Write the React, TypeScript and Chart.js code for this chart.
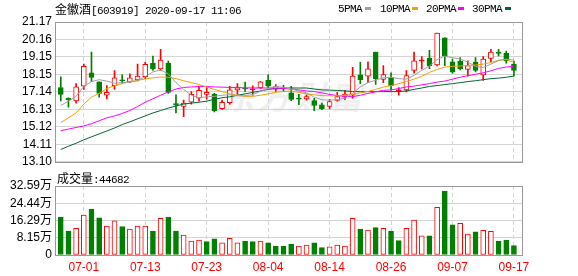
import React, { useEffect, useRef } from 'react';
import { Chart, registerables } from 'chart.js';

Chart.register(...registerables);

// ---------- data ----------
const stockName = '金徽酒';
const stockCode = '603919';
const stamp = '2020-09-17 11:06';
const lastVolume = 44682;

const dates = [
  '06-24', '06-29', '06-30', '07-01', '07-02', '07-03', '07-06', '07-07', '07-08', '07-09',
  '07-10', '07-13', '07-14', '07-15', '07-16', '07-17', '07-20', '07-21', '07-22', '07-23',
  '07-24', '07-27', '07-28', '07-29', '07-30', '07-31', '08-03', '08-04', '08-05', '08-06',
  '08-07', '08-10', '08-11', '08-12', '08-13', '08-14', '08-17', '08-18', '08-19', '08-20',
  '08-21', '08-24', '08-25', '08-26', '08-27', '08-28', '08-31', '09-01', '09-02', '09-03',
  '09-04', '09-07', '09-08', '09-09', '09-10', '09-11', '09-14', '09-15', '09-16', '09-17',
];

const opens = [
  17.39, 16.77, 16.62, 17.46, 18.24, 17.71, 16.95, 17.49, 17.82, 17.71,
  17.82, 18.01, 18.80, 18.46, 18.80, 16.46, 16.30, 16.54, 16.77, 16.99,
  16.99, 16.16, 16.51, 17.25, 17.33, 17.26, 17.37, 17.80, 17.29, 17.37,
  17.08, 16.74, 16.73, 16.64, 16.39, 16.30, 16.64, 16.85, 16.94, 18.12,
  18.05, 19.44, 17.86, 17.94, 17.19, 17.25, 18.37, 18.91, 19.07, 18.69,
  20.25, 18.87, 18.91, 18.43, 18.86, 18.12, 19.07, 19.44, 19.36, 18.74,
];
const closes = [
  16.99, 16.68, 17.43, 18.61, 17.97, 17.05, 17.11, 17.94, 17.78, 17.94,
  18.05, 18.73, 18.46, 18.97, 17.11, 16.37, 16.49, 16.99, 17.22, 17.11,
  16.05, 16.54, 17.25, 17.37, 17.30, 17.29, 17.71, 17.46, 17.44, 17.30,
  16.70, 16.72, 16.86, 16.35, 16.16, 16.58, 16.86, 17.01, 18.05, 17.84,
  18.46, 17.90, 18.14, 17.49, 17.25, 18.08, 18.93, 18.99, 18.65, 20.53,
  19.21, 18.27, 18.46, 18.65, 18.37, 19.03, 19.44, 19.36, 18.93, 18.37,
];
const highs = [
  18.01, 16.79, 17.61, 18.74, 19.44, 17.72, 17.50, 18.37, 18.12, 18.18,
  18.74, 18.86, 19.20, 19.59, 18.91, 16.97, 16.66, 17.16, 17.45, 17.39,
  17.05, 16.66, 17.45, 17.61, 17.70, 17.49, 17.74, 18.12, 17.56, 17.52,
  17.45, 16.99, 16.97, 16.77, 16.49, 16.71, 17.11, 17.22, 18.55, 18.84,
  18.87, 19.44, 18.65, 18.24, 17.39, 18.37, 19.44, 19.18, 19.53, 20.53,
  20.25, 19.03, 19.12, 18.93, 19.12, 19.18, 19.59, 19.59, 19.49, 18.91,
];
const lows = [
  16.62, 16.26, 16.49, 17.28, 17.73, 16.83, 16.73, 17.28, 17.63, 17.67,
  17.77, 17.90, 18.38, 18.38, 17.05, 15.92, 15.70, 16.43, 16.60, 16.71,
  15.98, 16.12, 16.43, 16.99, 17.16, 16.94, 17.33, 17.39, 17.16, 17.16,
  16.63, 16.40, 16.66, 16.05, 16.11, 16.16, 16.60, 16.68, 16.77, 17.61,
  17.67, 17.56, 17.67, 17.22, 16.94, 17.14, 18.21, 18.46, 18.48, 18.63,
  18.65, 18.21, 18.40, 18.05, 18.29, 17.80, 18.86, 19.21, 18.80, 18.05,
];
// volume in 万 (10k lots)
const volumes = [
  17.95, 11.3, 12.6, 18.9, 21.7, 17.6, 13.7, 16.1, 13.4, 12.3,
  13.7, 13.7, 11.3, 17.3, 17.95, 11.3, 9.45, 6.6, 7.1, 6.3,
  7.6, 5.7, 7.9, 5.7, 6.6, 6.3, 6.6, 5.7, 4.25, 4.25,
  5.2, 4.25, 4.7, 5.8, 3.45, 3.8, 4.7, 4.25, 17.3, 12.3,
  11.8, 12.9, 12.6, 11.3, 6.8, 12.6, 16.5, 9.0, 9.0, 22.5,
  30.2, 14.2, 15.0, 9.9, 10.9, 11.7, 11.2, 6.6, 7.1, 4.4682,
];
const ma5 = [
  16.35, 16.60, 16.88, 17.45, 17.73, 17.84, 17.76, 17.64, 17.67, 17.70,
  17.78, 18.01, 18.29, 18.40, 18.18, 17.67, 17.28, 16.94, 16.80, 16.85,
  16.88, 16.94, 16.97, 16.91, 16.91, 16.99, 17.16, 17.33, 17.45, 17.39,
  17.30, 17.19, 17.08, 16.83, 16.68, 16.66, 16.68, 16.77, 17.05, 17.42,
  17.67, 17.81, 17.95, 17.98, 17.90, 17.87, 18.09, 18.38, 18.63, 19.00,
  19.20, 19.11, 19.03, 18.86, 18.60, 18.55, 18.74, 18.94, 19.03, 18.97,
];
const ma10 = [
  15.36, 15.64, 15.92, 16.43, 16.83, 17.05, 17.33, 17.49, 17.61, 17.73,
  17.80, 17.88, 17.95, 17.99, 17.98, 17.90, 17.78, 17.67, 17.56, 17.42,
  17.28, 17.15, 17.02, 16.94, 16.88, 16.88, 16.94, 17.02, 17.11, 17.16,
  17.18, 17.11, 17.02, 16.97, 16.92, 16.91, 16.91, 16.94, 16.99, 17.08,
  17.16, 17.28, 17.41, 17.50, 17.61, 17.73, 17.87, 18.04, 18.26, 18.43,
  18.57, 18.61, 18.63, 18.66, 18.69, 18.74, 18.83, 18.97, 19.00, 18.83,
];
const ma20 = [
  14.89, 14.99, 15.08, 15.17, 15.30, 15.47, 15.64, 15.75, 15.89, 16.06,
  16.29, 16.54, 16.74, 16.94, 17.14, 17.30, 17.39, 17.42, 17.45, 17.45,
  17.42, 17.41, 17.39, 17.39, 17.37, 17.36, 17.36, 17.36, 17.35, 17.33,
  17.30, 17.25, 17.19, 17.15, 17.08, 16.99, 16.92, 16.88, 16.86, 16.94,
  17.05, 17.14, 17.22, 17.25, 17.33, 17.42, 17.47, 17.54, 17.61, 17.70,
  17.76, 17.87, 17.98, 18.07, 18.15, 18.24, 18.35, 18.49, 18.57, 18.61,
];
const ma30 = [
  13.81, 14.00, 14.17, 14.37, 14.54, 14.71, 14.88, 15.05, 15.25, 15.41,
  15.58, 15.75, 15.92, 16.06, 16.20, 16.32, 16.43, 16.49, 16.54, 16.60,
  16.71, 16.80, 16.85, 16.94, 17.02, 17.11, 17.19, 17.28, 17.33, 17.35,
  17.36, 17.36, 17.36, 17.30, 17.25, 17.24, 17.22, 17.19, 17.16, 17.15,
  17.15, 17.15, 17.15, 17.15, 17.15, 17.19, 17.28, 17.36, 17.45, 17.50,
  17.56, 17.61, 17.67, 17.73, 17.78, 17.84, 17.90, 17.93, 17.98, 18.05,
];

const dateTicks = ['07-01', '07-13', '07-23', '08-04', '08-14', '08-26', '09-07', '09-17'];
const priceTicks = [13.10, 14.11, 15.12, 16.13, 17.14, 18.15, 19.15, 20.16, 21.17];
const volumeTicks = [0, 8.15, 16.29, 24.44, 32.59];
const maNames = ['5PMA', '10PMA', '20PMA', '30PMA'];

// ---------- styles ----------
const RED = '#ff0000';
const GREEN = '#008000';
const GRID = '#d4d4d4';
const FRAME = '#999999';
const MA_COLORS = ['#a0a0a0', '#f0a000', '#ff00ff', '#006633'];
const X_MIN = -0.75;
const X_MAX = 60.05;
const TICK_FONT = { family: "'Liberation Sans', 'Noto Sans CJK SC', sans-serif", size: 12 };
const MONO = "'Liberation Mono', 'DejaVu Sans Mono', monospace";
const CJK = "'Noto Sans CJK SC', sans-serif";

const framePlugin = {
  id: 'frame',
  afterDraw(chart: any) {
    const { ctx, chartArea: a } = chart;
    ctx.save();
    ctx.strokeStyle = FRAME;
    ctx.lineWidth = 1;
    ctx.strokeRect(Math.round(a.left) + 0.5, Math.round(a.top) + 0.5, Math.round(a.right - a.left), Math.round(a.bottom - a.top));
    ctx.restore();
  },
};

function xScale(showLabels: boolean) {
  const tickIdx = dateTicks.map((d) => dates.indexOf(d));
  return {
    type: 'linear',
    min: X_MIN,
    max: X_MAX,
    offset: false,
    afterBuildTicks: (s: any) => {
      s.ticks = tickIdx.map((v) => ({ value: v }));
    },
    afterFit: (s: any) => {
      s.height = showLabels ? 21 : 0;
    },
    ticks: {
      display: showLabels,
      color: RED,
      font: TICK_FONT,
      padding: 5,
      autoSkip: false,
      maxRotation: 0,
      callback: (v: any) => dates[Math.round(Number(v))],
    },
    grid: { color: GRID, lineWidth: 1, drawTicks: false, offset: false },
    border: { display: false, dash: [4, 3] },
  };
}

export default function App() {
  const priceRef = useRef<HTMLCanvasElement>(null);
  const volRef = useRef<HTMLCanvasElement>(null);

  useEffect(() => {
    const up = (i: number) => closes[i] >= opens[i];
    const volUp = (i: number) => (i === 0 ? closes[0] >= opens[0] : closes[i] >= closes[i - 1]);
    const n = dates.length;
    const idx = Array.from({ length: n }, (_, i) => i);

    const bodyFill = (i: number) => (up(i) ? (Math.abs(closes[i] - opens[i]) < 0.12 ? RED : '#ffffff') : GREEN);

    const priceChart = new Chart(priceRef.current as HTMLCanvasElement, {
      type: 'bar',
      data: {
        datasets: [
          ...[ma5, ma10, ma20, ma30].map((arr, k) => ({
            type: 'line',
            label: maNames[k],
            data: idx.map((i) => ({ x: i, y: arr[i] })),
            borderColor: MA_COLORS[k],
            borderWidth: 1,
            pointRadius: 0,
            tension: 0,
            order: 0,
          })),
          {
            type: 'bar',
            label: 'body',
            data: idx.map((i) => ({ x: i, y: [opens[i], closes[i]] })),
            backgroundColor: idx.map((i) => bodyFill(i)),
            borderColor: idx.map((i) => (up(i) ? RED : GREEN)),
            borderWidth: 1,
            borderSkipped: false,
            grouped: false,
            barThickness: 5,
            maxBarThickness: 5,
            minBarLength: 1,
            order: 1,
          },
          {
            type: 'bar',
            label: 'wick',
            data: idx.map((i) => ({ x: i, y: [lows[i], highs[i]] })),
            backgroundColor: idx.map((i) => (up(i) ? RED : GREEN)),
            borderWidth: 0,
            grouped: false,
            barThickness: 1,
            maxBarThickness: 1,
            order: 2,
          },
        ] as any,
      },
      options: {
        responsive: false,
        maintainAspectRatio: false,
        animation: false,
        layout: { padding: { top: 22, right: 56, bottom: 7, left: 0 } },
        plugins: { legend: { display: false }, tooltip: { enabled: false }, title: { display: false } },
        scales: {
          x: xScale(false) as any,
          y: {
            type: 'linear',
            position: 'left',
            min: priceTicks[0],
            max: priceTicks[priceTicks.length - 1],
            afterBuildTicks: (s: any) => {
              s.ticks = priceTicks.map((v) => ({ value: v }));
            },
            afterFit: (s: any) => {
              s.width = 55;
            },
            ticks: {
              color: '#000',
              font: TICK_FONT,
              padding: 3,
              autoSkip: false,
              callback: (v: any) => Number(v).toFixed(2),
            },
            grid: { color: GRID, lineWidth: 1, drawTicks: false },
            border: { display: false },
          },
        },
      },
      plugins: [framePlugin],
    } as any);

    const volChart = new Chart(volRef.current as HTMLCanvasElement, {
      type: 'bar',
      data: {
        datasets: [
          {
            label: '成交量',
            data: idx.map((i) => ({ x: i, y: volumes[i] })),
            backgroundColor: idx.map((i) => (volUp(i) ? '#ffffff' : GREEN)),
            borderColor: idx.map((i) => (volUp(i) ? RED : GREEN)),
            borderWidth: 1,
            borderSkipped: false,
            barThickness: 5,
            maxBarThickness: 5,
          },
        ] as any,
      },
      options: {
        responsive: false,
        maintainAspectRatio: false,
        animation: false,
        layout: { padding: { top: 14, right: 56, bottom: 0, left: 0 } },
        plugins: { legend: { display: false }, tooltip: { enabled: false } },
        scales: {
          x: xScale(true) as any,
          y: {
            type: 'linear',
            position: 'left',
            min: volumeTicks[0],
            max: volumeTicks[volumeTicks.length - 1],
            afterBuildTicks: (s: any) => {
              s.ticks = volumeTicks.map((v) => ({ value: v }));
            },
            afterFit: (s: any) => {
              s.width = 55;
            },
            ticks: {
              color: '#000',
              font: TICK_FONT,
              padding: 3,
              autoSkip: false,
              callback: (v: any) => (Number(v) === 0 ? '0' : Number(v).toFixed(2) + '万'),
            },
            grid: { color: GRID, lineWidth: 1, drawTicks: false },
            border: { display: false },
          },
        },
      },
      plugins: [framePlugin],
    } as any);

    return () => {
      priceChart.destroy();
      volChart.destroy();
    };
  }, []);

  const legendPos = [338, 380, 426, 472];
  const boxPos = [365, 412, 458, 505];

  return (
    <div style={{ position: 'absolute', left: 0, top: 0, width: 578, height: 276, overflow: 'hidden', background: '#fff' }}>
      <div
        style={{
          position: 'absolute', left: 222, top: 72, fontFamily: CJK, fontWeight: 700, fontStyle: 'italic',
          fontSize: 32, color: '#efefef', letterSpacing: 4, whiteSpace: 'nowrap', zIndex: 0,
        }}
      >
        东方财富
      </div>
      <canvas ref={priceRef} width={578} height={172} style={{ position: 'absolute', left: 0, top: 0, zIndex: 1 }} />
      <canvas ref={volRef} width={578} height={104} style={{ position: 'absolute', left: 0, top: 172, zIndex: 1 }} />
      <div style={{ position: 'absolute', left: 55, top: 2, lineHeight: '14px', whiteSpace: 'nowrap', color: '#000', zIndex: 2 }}>
        <span style={{ fontFamily: CJK, fontSize: 12 }}>{stockName}</span>
        <span style={{ fontFamily: MONO, fontSize: 11, letterSpacing: '-0.6px' }}>[{stockCode}] {stamp}</span>
      </div>
      {maNames.map((name, k) => (
        <React.Fragment key={name}>
          <div
            style={{
              position: 'absolute', left: legendPos[k], top: 2, lineHeight: '14px', fontFamily: MONO, fontSize: 11,
              letterSpacing: '-0.6px', color: '#000', whiteSpace: 'nowrap', zIndex: 2,
            }}
          >
            {name}
          </div>
          <div style={{ position: 'absolute', left: boxPos[k], top: 7, width: 6, height: 3, background: MA_COLORS[k], zIndex: 2 }} />
        </React.Fragment>
      ))}
      <div style={{ position: 'absolute', left: 57, top: 171, lineHeight: '14px', whiteSpace: 'nowrap', color: '#000', zIndex: 2 }}>
        <span style={{ fontFamily: CJK, fontSize: 12 }}>成交量</span>
        <span style={{ fontFamily: MONO, fontSize: 11, letterSpacing: '-0.6px' }}>:{lastVolume}</span>
      </div>
    </div>
  );
}
